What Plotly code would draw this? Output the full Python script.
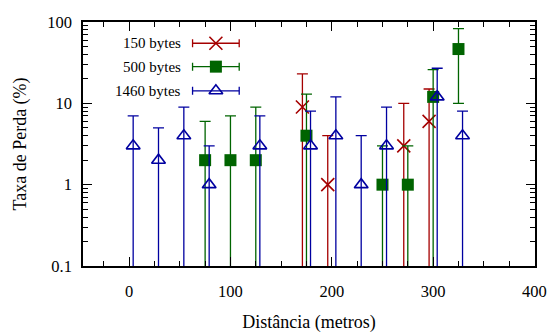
import plotly.graph_objects as go

# ---- data ----
dist_150 = [171, 196, 271, 296]
loss_150 = [9, 1, 3, 6]
err_150 = [14, 3, 7, 9]

dist_500 = [75, 100, 125, 175, 250, 275, 300, 325]
loss_500 = [2, 2, 2, 4, 1, 1, 12, 46.5]
err_500 = [4, 5, 7, 9, 2, 2, 14, 36.5]

dist_1460 = [4, 29, 54, 79, 129, 179, 204, 229, 254, 304, 329]
loss_1460 = [3, 2, 4, 1, 3, 3, 4, 1, 3, 12, 4]
err_1460 = [4, 3, 5, 2, 4, 5, 8, 3, 6, 15, 4]

series_names = ["150 bytes", "500 bytes", "1460 bytes"]
y_tick_vals = [0.1, 1, 10, 100]
y_tick_text = ["0.1", "1", "10", "100"]
x_tick_vals = [0, 100, 200, 300, 400]

RED = "#a50000"
GREEN = "#006400"
BLUE = "#0000a0"
FONT = "Liberation Serif"

fig = go.Figure()

styles = [
    (dist_150, loss_150, err_150, RED, dict(symbol="x-thin-open", size=13, color=RED, line=dict(color=RED, width=1.6))),
    (dist_500, loss_500, err_500, GREEN, dict(symbol="square", size=12, color=GREEN, line=dict(width=0))),
    (dist_1460, loss_1460, err_1460, BLUE, dict(symbol="triangle-up-open", size=12, color=BLUE, line=dict(color=BLUE, width=1.6))),
]

for (xs, ys, es, col, mk) in styles:
    fig.add_trace(go.Scatter(
        x=xs, y=ys, mode="markers", marker=mk, showlegend=False,
        error_y=dict(type="data", array=es, symmetric=True, color=col, thickness=1.3, width=5.5),
        cliponaxis=True,
    ))

# custom gnuplot-style key on an overlay axis
key_y = [0.913, 0.817, 0.718]
for i, (xs, ys, es, col, mk) in enumerate(styles):
    fig.add_trace(go.Scatter(
        x=[0.294], y=[key_y[i]], mode="markers", marker=mk, showlegend=False,
        xaxis="x2", yaxis="y2",
        error_x=dict(type="data", array=[0.0516], symmetric=True, color=col, thickness=1.3, width=4),
    ))
    fig.add_annotation(x=0.221, y=key_y[i], xref="paper", yref="paper", text=series_names[i],
                       showarrow=False, xanchor="right", yanchor="middle",
                       font=dict(family=FONT, size=15, color="black"))

axis_common = dict(showline=True, linecolor="black", linewidth=1.5, mirror="ticks",
                   ticks="inside", ticklen=9, tickwidth=1, tickcolor="black",
                   showgrid=False, zeroline=False, automargin=False,
                   tickfont=dict(family=FONT, size=16.5, color="black"))

fig.update_layout(
    width=551, height=333,
    margin=dict(l=83, r=16, t=22, b=67),
    paper_bgcolor="white", plot_bgcolor="white",
    xaxis=dict(range=[-45.5, 400.5], tickvals=x_tick_vals, ticklabelstandoff=9,
               minor=dict(dtick=25, tick0=0, ticks="inside", ticklen=5, tickcolor="black", showgrid=False),
               title=dict(text="Distância (metros)", font=dict(family=FONT, size=18, color="black"), standoff=31),
               **axis_common),
    yaxis=dict(type="log", range=[-1, 2], tickvals=y_tick_vals, ticktext=y_tick_text, ticklabelstandoff=6,
               minor=dict(dtick="D1", ticks="inside", ticklen=5, tickcolor="black", showgrid=False),
               title=dict(text="Taxa de Perda (%)", font=dict(family=FONT, size=18, color="black"), standoff=16),
               **axis_common),
    xaxis2=dict(overlaying="x", range=[0, 1], visible=False, fixedrange=True),
    yaxis2=dict(overlaying="y", range=[0, 1], visible=False, fixedrange=True),
    showlegend=False,
)

fig.write_html("out.html", config={"displayModeBar": False},
               post_script="document.body.style.margin='0';document.body.style.padding='0';")
